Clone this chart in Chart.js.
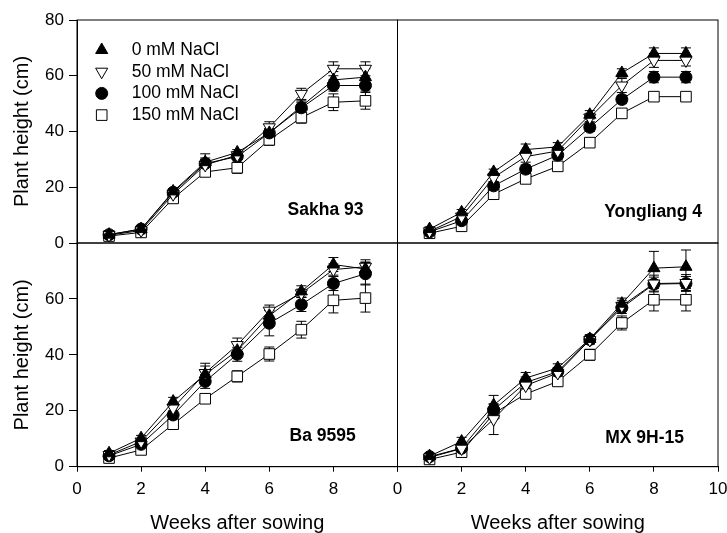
<!DOCTYPE html>
<html>
<head>
<meta charset="utf-8">
<script src="https://cdn.jsdelivr.net/npm/chart.js@4.4.1/dist/chart.umd.min.js"></script>
<style>
  body { margin: 0; background: #fff; }
  #wrap { position: relative; width: 727px; height: 533px; }
  #wrap canvas { position: absolute; left: 0; top: 0; }
</style>
</head>
<body>
<div id="wrap">
  <canvas id="sakha" width="727" height="533"></canvas>
  <canvas id="yongliang" width="727" height="533"></canvas>
  <canvas id="ba" width="727" height="533"></canvas>
  <canvas id="mx" width="727" height="533"></canvas>
</div>
<script>
const weeks = [1, 2, 3, 4, 5, 6, 7, 8, 9];
const seriesLabels = ['0 mM NaCl', '50 mM NaCl', '100 mM NaCl', '150 mM NaCl'];
const xTicks = [0, 2, 4, 6, 8, 10];
const yTicks = [0, 20, 40, 60, 80];

// Sakha 93
const sakha0 = [3, 5, 18.5, 29, 32.5, 39.5, 49, 58.5, 59.5];
const sakha50 = [2.8, 4.5, 17.5, 28, 31.5, 41.5, 53.5, 62.5, 62.5];
const sakha100 = [3, 5, 18.2, 28.5, 31, 39.5, 48.5, 56.5, 56.5];
const sakha150 = [2.5, 3.8, 16, 25.5, 27, 37, 45, 50.5, 51];
const sakha0Err = [1, 1, 1, 3, 1, 1.5, 2, 3, 3];
const sakha50Err = [0.8, 1, 1, 2, 1, 2, 2, 2.5, 2.5];
const sakha100Err = [1, 1, 1, 2, 1, 1.5, 2, 2, 2];
const sakha150Err = [0.8, 1, 1.5, 1.5, 2, 2, 2, 3, 3];

// Yongliang 4
const yong0 = [5, 11, 25.5, 33.5, 34.5, 46, 61, 68, 68];
const yong50 = [4.2, 9.5, 23.5, 31, 33, 45, 56.5, 65.5, 65.5];
const yong100 = [4, 8, 20.5, 26.5, 31.5, 41.5, 51.5, 59.5, 59.5];
const yong150 = [3.5, 6, 17.5, 23, 27.5, 36, 46.5, 52.5, 52.5];
const yong0Err = [0.8, 1, 1, 2, 1.5, 1.5, 1.5, 2, 2];
const yong50Err = [0.8, 1, 1.5, 2, 1.5, 1.5, 2.5, 2.5, 2];
const yong100Err = [0.8, 1, 1.5, 1.5, 1.5, 1.5, 1.5, 2, 2];
const yong150Err = [0.8, 1, 1.5, 1.5, 1, 1, 1.5, 1.5, 1.5];

// Ba 9595
const ba0 = [4.8, 10.2, 23.3, 33, 41.5, 54, 62.7, 72.3, 70.7];
const ba50 = [4.2, 9, 21, 33.5, 43.5, 55.8, 62, 70.5, 71.5];
const ba100 = [3.9, 8, 18.5, 30.5, 40.2, 51.3, 58, 65.5, 69];
const ba150 = [3.1, 6, 15.2, 24.3, 32.3, 40.3, 49, 59.5, 60.3];
const ba0Err = [1, 1, 1.5, 3, 2.5, 2, 2, 2.5, 2.5];
const ba50Err = [1, 1, 1.5, 3.5, 2.5, 2, 1.5, 2, 2.5];
const ba100Err = [1, 1, 1.5, 2.5, 2.5, 4.5, 2.5, 2.5, 4];
const ba150Err = [0.8, 1, 1.5, 1.5, 2, 2.5, 3, 4.5, 5];

// MX 9H-15
const mx0 = [3.8, 9, 22, 31.7, 35.3, 45.7, 58.3, 71, 71.5];
const mx50 = [3.3, 6.5, 17, 29, 33.5, 45.3, 57.5, 65.5, 65.7];
const mx100 = [3.6, 6.6, 20.3, 30.1, 34, 45.5, 56.8, 65.3, 65.5];
const mx150 = [2.6, 5.2, 19, 26, 30.5, 40, 51.4, 59.7, 59.7];
const mx0Err = [1, 1.5, 3.5, 2, 1.5, 1.5, 2, 6, 6];
const mx50Err = [1, 1, 5.5, 2, 1.5, 1.5, 2, 3, 3];
const mx100Err = [1, 1, 2, 2, 1.5, 1.5, 2, 2.5, 2.5];
const mx150Err = [0.8, 1, 1.5, 1.5, 1.5, 2, 2.5, 4, 4];

const markers = [
    { style: 'triangle', rotation: 0, radius: 7, fill: '#000' },
    { style: 'triangle', rotation: 180, radius: 7, fill: '#fff' },
    { style: 'circle', rotation: 0, radius: 6, fill: '#000' },
    { style: 'rect', rotation: 0, radius: 7.5, fill: '#fff' }
];

Chart.defaults.font.family = '"Liberation Sans", Arial, sans-serif';
Chart.defaults.color = '#000';

const errorBars = {
    id: 'errorBars',
    beforeDatasetsDraw(chart) {
        const { ctx, scales: { x, y } } = chart;
        ctx.save();
        ctx.strokeStyle = '#000';
        ctx.lineWidth = 1;
        chart.data.datasets.forEach(ds => {
            ds.data.forEach((p, i) => {
                const e = ds.errors[i];
                const px = x.getPixelForValue(p.x);
                const top = y.getPixelForValue(p.y + e);
                const bot = y.getPixelForValue(p.y - e);
                ctx.beginPath();
                ctx.moveTo(px, top); ctx.lineTo(px, bot);
                ctx.moveTo(px - 5, top); ctx.lineTo(px + 5, top);
                ctx.moveTo(px - 5, bot); ctx.lineTo(px + 5, bot);
                ctx.stroke();
            });
        });
        ctx.restore();
    }
};

const frame = {
    id: 'frame',
    beforeDatasetsDraw(chart) {
        const { ctx, chartArea: a } = chart;
        ctx.save();
        ctx.strokeStyle = '#000';
        ctx.lineWidth = 1;
        ctx.strokeRect(a.left, a.top, a.right - a.left, a.bottom - a.top);
        ctx.restore();
    }
};

const panelLabel = {
    id: 'panelLabel',
    afterDraw(chart, args, opts) {
        const { ctx, scales: { x, y } } = chart;
        ctx.save();
        ctx.font = 'bold 17.5px "Liberation Sans", Arial, sans-serif';
        ctx.fillStyle = '#000';
        ctx.textAlign = 'left';
        ctx.textBaseline = 'middle';
        ctx.fillText(opts.text, x.getPixelForValue(opts.x), y.getPixelForValue(opts.y));

        if (opts.legend) {
            const a = chart.chartArea;
            chart.data.datasets.forEach((ds, k) => {
                const rowY = a.top + 30 + k * 21.7;
                ctx.fillStyle = markers[k].fill;
                ctx.strokeStyle = '#000';
                ctx.lineWidth = 1;
                Chart.helpers.drawPoint(ctx, {
                    pointStyle: markers[k].style,
                    rotation: markers[k].rotation,
                    radius: markers[k].radius,
                    borderWidth: 1
                }, a.left + 24.7, rowY);
                ctx.fillStyle = '#000';
                ctx.font = '17.5px "Liberation Sans", Arial, sans-serif';
                ctx.fillText(ds.label, a.left + 54.7, rowY);
            });
        }
        ctx.restore();
    }
};

const makePanel = (id, values, errors, o) => {
    const datasets = seriesLabels.map((label, k) => ({
        label,
        data: weeks.map((w, i) => ({ x: w, y: values[k][i] })),
        errors: errors[k],
        borderColor: '#000',
        borderWidth: 1,
        tension: 0,
        pointStyle: markers[k].style,
        pointRotation: markers[k].rotation,
        pointRadius: markers[k].radius,
        pointBackgroundColor: markers[k].fill,
        pointBorderColor: '#000',
        pointBorderWidth: 1
    }));

    return new Chart(document.getElementById(id), {
        type: 'line',
        data: { datasets },
        plugins: [frame, errorBars, panelLabel],
        options: {
            responsive: false,
            animation: false,
            events: [],
            layout: { padding: o.padding },
            plugins: {
                legend: { display: false },
                tooltip: { enabled: false },
                panelLabel: { text: o.name, x: o.labelX, y: o.labelY, legend: !!o.legend }
            },
            scales: {
                x: {
                    type: 'linear',
                    min: 0,
                    max: 10,
                    display: o.showX,
                    afterBuildTicks: s => { s.ticks = xTicks.map(v => ({ value: v })); },
                    ticks: {
                        autoSkip: false,
                        maxRotation: 0,
                        padding: 7,
                        font: { size: 17 },
                        callback: v => (o.hideLastX && v === 10) ? '' : v
                    },
                    grid: { drawOnChartArea: false, tickLength: 5, color: '#000' },
                    border: { color: '#000' },
                    title: {
                        display: true,
                        text: 'Weeks after sowing',
                        font: { size: 20, lineHeight: 1 },
                        padding: { top: 0, bottom: 0 }
                    },
                    afterFit: s => {
                        if (!o.showX) return;
                        s.height = 66.3; s.paddingLeft = 0; s.paddingRight = 0;
                    }
                },
                y: {
                    type: 'linear',
                    min: 0,
                    max: 80,
                    display: o.showY,
                    afterBuildTicks: s => { s.ticks = yTicks.map(v => ({ value: v })); },
                    ticks: {
                        padding: 5,
                        font: { size: 17 },
                        callback: v => (o.hideTopY && v === 80) ? '' : v
                    },
                    grid: { drawOnChartArea: false, tickLength: 8, color: '#000' },
                    border: { color: '#000' },
                    title: {
                        display: true,
                        text: 'Plant height (cm)',
                        font: { size: 20, lineHeight: 1.2 },
                        padding: { top: 10, bottom: 0 }
                    },
                    afterFit: s => {
                        if (!o.showY) return;
                        s.width = 77; s.paddingTop = 0; s.paddingBottom = 0;
                    }
                }
            }
        }
    });
};

makePanel('sakha',
    [sakha0, sakha50, sakha100, sakha150],
    [sakha0Err, sakha50Err, sakha100Err, sakha150Err],
    { name: 'Sakha 93', labelX: 6.57, labelY: 11.8, legend: true, showX: false, showY: true,
      padding: { left: 0, top: 20, right: 329.5, bottom: 290 } });

makePanel('yongliang',
    [yong0, yong50, yong100, yong150],
    [yong0Err, yong50Err, yong100Err, yong150Err],
    { name: 'Yongliang 4', labelX: 6.45, labelY: 11.2, showX: false, showY: false,
      padding: { left: 397.5, top: 20, right: 9, bottom: 290 } });

makePanel('ba',
    [ba0, ba50, ba100, ba150],
    [ba0Err, ba50Err, ba100Err, ba150Err],
    { name: 'Ba 9595', labelX: 6.63, labelY: 10.75, showX: true, showY: true, hideLastX: true, hideTopY: true,
      padding: { left: 0, top: 243, right: 329.5, bottom: 0 } });

makePanel('mx',
    [mx0, mx50, mx100, mx150],
    [mx0Err, mx50Err, mx100Err, mx150Err],
    { name: 'MX 9H-15', labelX: 6.48, labelY: 10.2, showX: true, showY: false,
      padding: { left: 397.5, top: 243, right: 9, bottom: 0 } });
</script>
</body>
</html>
